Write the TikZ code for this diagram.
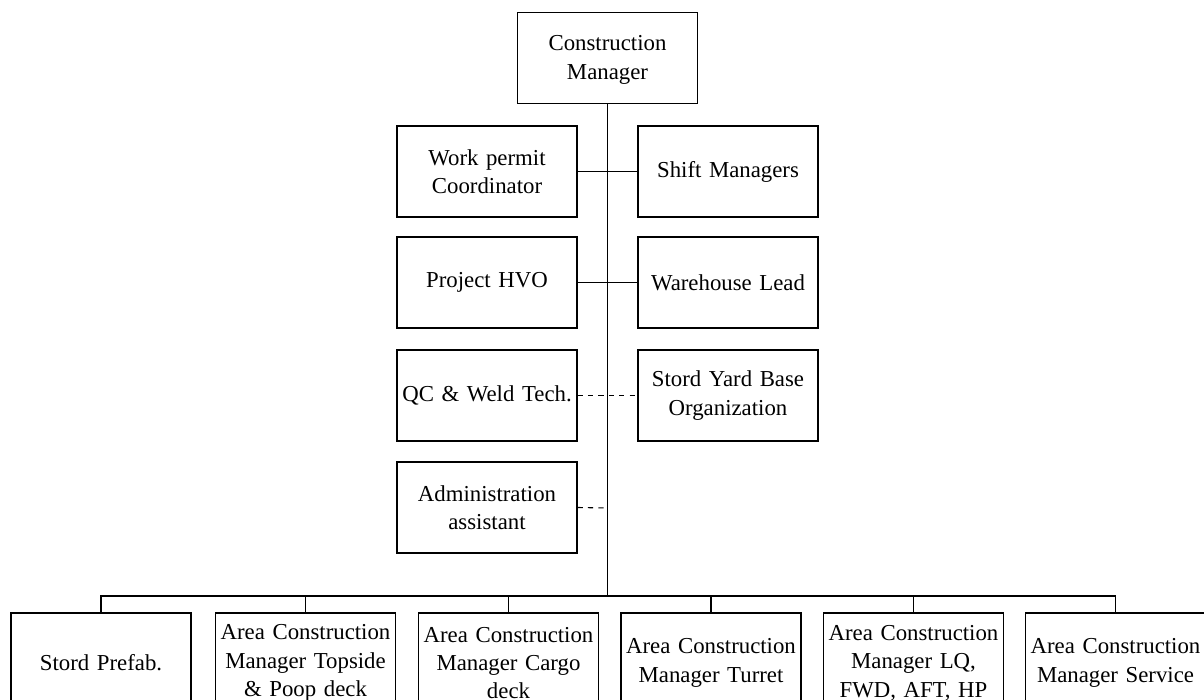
\documentclass[tikz,border=0pt]{standalone}
\usepackage{fontspec}
\setmainfont{Liberation Serif}
\begin{document}
\begin{tikzpicture}[x=0.5pt,y=-0.5pt,
  box/.style={draw, line width=0.55pt, minimum width=90pt, minimum height=45.5pt,
    text width=88pt, align=center, inner sep=0pt,
    font=\fontsize{11.4pt}{14.2pt}\selectfont},
  lowbox/.style={box, minimum height=50pt},
  link/.style={line width=0.55pt},
  dotlink/.style={line width=0.55pt, dash pattern=on 2.6pt off 2.6pt}]
\useasboundingbox (0,0) rectangle (1204,700);
\clip (0,0) rectangle (1204,700);

% top manager
\node[box] (cm) at (607.5,58) {};
\node[font=\fontsize{11.4pt}{14.2pt}\selectfont, align=center, inner sep=0pt]
  (cmtext) at (607.5,60) {Construction\\Manager};

% staff functions beside the trunk
\node[box] (wpc) at (487,171.5) {Work permit\\Coordinator};
\node[box] (sm)  at (728,171.5) {Shift Managers};
\node[box] (hvo) at (487,282.5) {Project HVO};
\node[box] (wl)  at (728,282.5) {Warehouse Lead};
\node[box] (qc)  at (487,395.5) {QC \& Weld Tech.};
\node[box] (syb) at (728,395.5) {Stord Yard Base\\Organization};
\node[box] (adm) at (487,507.5) {Administration\\assistant};

% area level
\node[lowbox] (b1) at (101,663)    {Stord Prefab.};
\node[lowbox] (b2) at (305.5,663)  {Area Construction\\Manager Topside\\\& Poop deck};
\node[lowbox] (b3) at (508.5,663)  {Area Construction\\Manager Cargo\\deck};
\node[lowbox] (b4) at (711,663)    {Area Construction\\Manager Turret};
\node[lowbox] (b5) at (913.5,663)  {Area Construction\\Manager LQ,\\FWD, AFT, HP};
\node[lowbox] (b6) at (1115.5,663) {Area Construction\\Manager Service};

% trunk and bus
\coordinate (bus) at (607.5,596);
\coordinate (admtap) at (607.5,508);
\draw[link] (cm.south) -- (bus);
\draw[link] (b1.north) |- (bus) -| (b6.north);
\foreach \b in {b2,b3,b4,b5}
  \draw[link] (\b.north) -- (\b.north |- bus);

% side links
\draw[link] (wpc.east) -- (sm.west);
\draw[link] (hvo.east) -- (wl.west);
\draw[dotlink] (qc.east) -- (syb.west);
\draw[dotlink] (adm.east) -- (admtap);
\end{tikzpicture}
\end{document}
